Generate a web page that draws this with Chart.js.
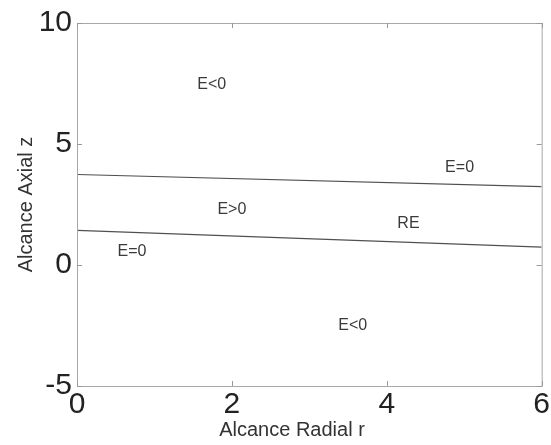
<!DOCTYPE html>
<html>
<head>
<meta charset="utf-8">
<script src="https://cdn.jsdelivr.net/npm/chart.js@4/dist/chart.umd.min.js"></script>
<style>
  html, body { margin: 0; padding: 0; background: #fff; }
  #wrap { width: 551px; height: 445px; }
</style>
</head>
<body>
<div id="wrap"><canvas id="regionChart" width="551" height="445"></canvas></div>
<script>
// boundary curves E=0 (r -> z)
const radialR = [0, 6];
const upperZ = [3.74, 3.24];
const lowerZ = [1.43, 0.74];

// region annotations
const regionText = ["E<0", "E=0", "E>0", "RE", "E=0", "E<0"];
const regionR = [1.74, 4.94, 2.0, 4.28, 0.71, 3.56];
const regionZ = [7.45, 4.03, 2.3, 1.72, 0.57, -2.5];

// axes
const xTicks = [0, 2, 4, 6];
const yTicks = [-5, 0, 5, 10];
const xTitle = "Alcance Radial r";
const yTitle = "Alcance Axial z";

const FONT = "'Liberation Sans', Arial, sans-serif";

function toPoints(xs, ys) {
    return xs.map((x, i) => ({ x, y: ys[i] }));
}

const decorPlugin = {
    id: "decor",
    afterDatasetsDraw(chart) {
        const { ctx, chartArea: a, scales } = chart;
        const xs = scales.x, ys = scales.y;
        ctx.save();

        // frame
        ctx.strokeStyle = "#a8a8a8";
        ctx.lineWidth = 1;
        ctx.strokeRect(a.left + 0.5, a.top + 0.5, a.right - a.left, a.bottom - a.top);

        // inward ticks on all sides
        ctx.strokeStyle = "#999";
        ctx.beginPath();
        xTicks.forEach(v => {
            const px = Math.round(xs.getPixelForValue(v)) + 0.5;
            ctx.moveTo(px, a.bottom); ctx.lineTo(px, a.bottom - 5);
            ctx.moveTo(px, a.top); ctx.lineTo(px, a.top + 5);
        });
        yTicks.forEach(v => {
            const py = Math.round(ys.getPixelForValue(v)) + 0.5;
            ctx.moveTo(a.left, py); ctx.lineTo(a.left + 5, py);
            ctx.moveTo(a.right, py); ctx.lineTo(a.right - 5, py);
        });
        ctx.stroke();

        // region labels
        ctx.fillStyle = "#3a3a3a";
        ctx.font = "16px " + FONT;
        ctx.textAlign = "center";
        ctx.textBaseline = "middle";
        regionText.forEach((t, i) => {
            ctx.fillText(t, xs.getPixelForValue(regionR[i]), ys.getPixelForValue(regionZ[i]));
        });

        // axis titles
        ctx.fillStyle = "#333";
        ctx.font = "20px " + FONT;
        ctx.fillText(xTitle, 292, 430);
        ctx.translate(26, (a.top + a.bottom) / 2);
        ctx.rotate(-Math.PI / 2);
        ctx.fillText(yTitle, 0, 0);

        ctx.restore();
    }
};

const lineStyle = {
    showLine: true,
    borderColor: "#505050",
    borderWidth: 1.2,
    pointRadius: 0,
    fill: false
};

new Chart(document.getElementById("regionChart"), {
    type: "scatter",
    data: {
        datasets: [
            { label: "E=0 sup", data: toPoints(radialR, upperZ), ...lineStyle },
            { label: "E=0 inf", data: toPoints(radialR, lowerZ), ...lineStyle }
        ]
    },
    options: {
        responsive: false,
        animation: false,
        devicePixelRatio: 1,
        layout: { padding: { top: 22, right: 9, bottom: 0, left: 0 } },
        plugins: {
            legend: { display: false },
            tooltip: { enabled: false }
        },
        scales: {
            x: {
                type: "linear",
                min: 0,
                max: 6,
                afterFit(scale) { scale.height = 59; },
                afterBuildTicks(scale) { scale.ticks = xTicks.map(v => ({ value: v })); },
                grid: { display: false, drawTicks: false },
                border: { display: false },
                ticks: {
                    padding: 1,
                    color: "#222",
                    font: { family: FONT, size: 30 }
                }
            },
            y: {
                type: "linear",
                min: -5,
                max: 10,
                afterFit(scale) { scale.width = 77; },
                afterBuildTicks(scale) { scale.ticks = yTicks.map(v => ({ value: v })); },
                grid: { display: false, drawTicks: false },
                border: { display: false },
                ticks: {
                    padding: 5,
                    color: "#222",
                    font: { family: FONT, size: 30 }
                }
            }
        }
    },
    plugins: [decorPlugin]
});
</script>
</body>
</html>
